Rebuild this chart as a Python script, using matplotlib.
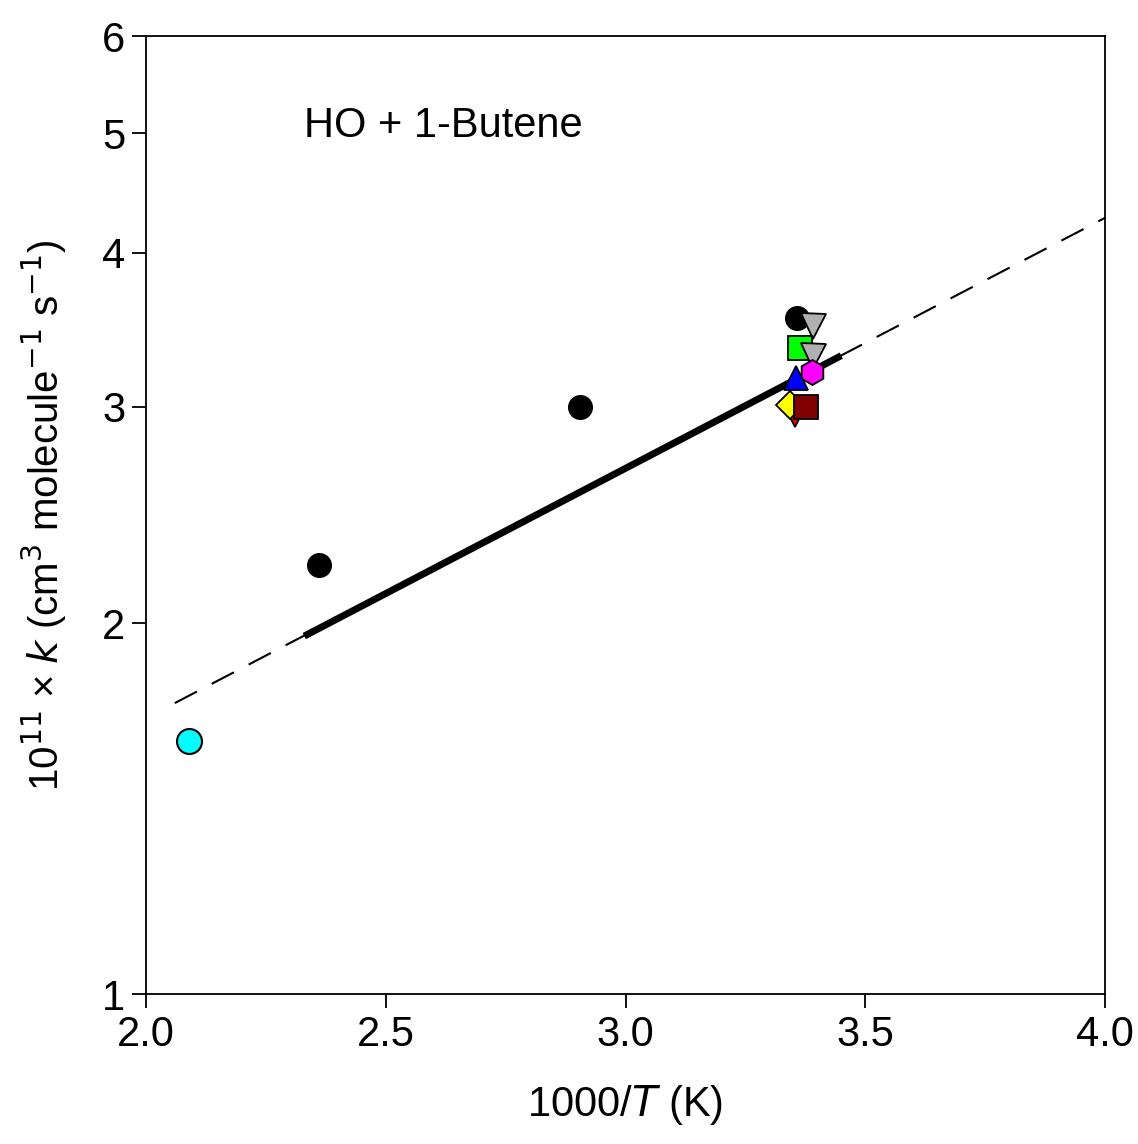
import numpy as np
import matplotlib
matplotlib.use("Agg")
import matplotlib.pyplot as plt
from matplotlib.ticker import FixedLocator, NullLocator

plt.rcParams['font.family'] = ['Liberation Sans', 'DejaVu Sans']

# measurements (1000/T, 10^11 k)
black_x = [2.36, 2.905, 3.358]
black_y = [2.23, 3.00, 3.54]
cyan_x = [2.09]
cyan_y = [1.606]

# room temperature studies
rt_x = [3.391, 3.364, 3.391, 3.389, 3.356, 3.353, 3.343, 3.376]
rt_y = [3.49, 3.35, 3.30, 3.20, 3.165, 2.95, 3.01, 3.00]
rt_marker = ['v', 's', 'v', 'h', '^', 'v', 'D', 's']
rt_color = ['#b0b0b0', '#00ff00', '#b0b0b0', '#ff00ff', '#0000ff', '#ff0000', '#ffff00', '#800000']
rt_size = [18, 17, 18, 18, 17, 16, 14, 17]

# recommended expression: solid over its range, dashed extrapolation
dash_x = [2.06, 4.0]
dash_y = [1.723, 4.27]
solid_x = [2.33, 3.45]
solid_y = [1.953, 3.30]

fig = plt.figure(figsize=(11.38, 11.44), dpi=100)
ax = fig.add_axes([146 / 1138, 1 - 994 / 1144, 959 / 1138, 958 / 1144])

ax.plot(dash_x, dash_y, color='black', lw=1.5, dashes=(12, 8), zorder=2)
ax.plot(solid_x, solid_y, color='black', lw=5, solid_capstyle='butt', zorder=2)

ax.plot(black_x, black_y, 'o', color='black', ms=17, zorder=3)
ax.plot(cyan_x, cyan_y, 'o', mfc='#00ffff', mec='black', mew=1.5, ms=18, zorder=3)
for x, y, m, c, s in zip(rt_x, rt_y, rt_marker, rt_color, rt_size):
    ax.plot([x], [y], m, mfc=c, mec='black', mew=1.3, ms=s, zorder=4)

ax.set_yscale('log')
ax.set_xlim(2.0, 4.0)
ax.set_ylim(1, 6)
ax.xaxis.set_major_locator(FixedLocator([2.0, 2.5, 3.0, 3.5, 4.0]))
ax.set_xticklabels(['2.0', '2.5', '3.0', '3.5', '4.0'])
ax.yaxis.set_major_locator(FixedLocator([1, 2, 3, 4, 5, 6]))
ax.yaxis.set_minor_locator(NullLocator())
ax.set_yticklabels(['1', '2', '3', '4', '5', '6'])
ax.tick_params(axis='both', direction='out', length=10, width=1.3, labelsize=30, pad=5)
ax.tick_params(top=False, right=False)
for s in ax.spines.values():
    s.set_linewidth(1.3)

ax.text(2.33, 5.07, 'HO + 1-Butene', fontsize=30, va='center', ha='left')

ax.set_xlabel('1000/$T$ (K)', fontsize=30, labelpad=20)
ax.set_ylabel('10$^{11}$ × $k$ (cm$^3$ molecule$^{-1}$ s$^{-1}$)', fontsize=29, labelpad=24)

fig.savefig('out.png', dpi=100)
